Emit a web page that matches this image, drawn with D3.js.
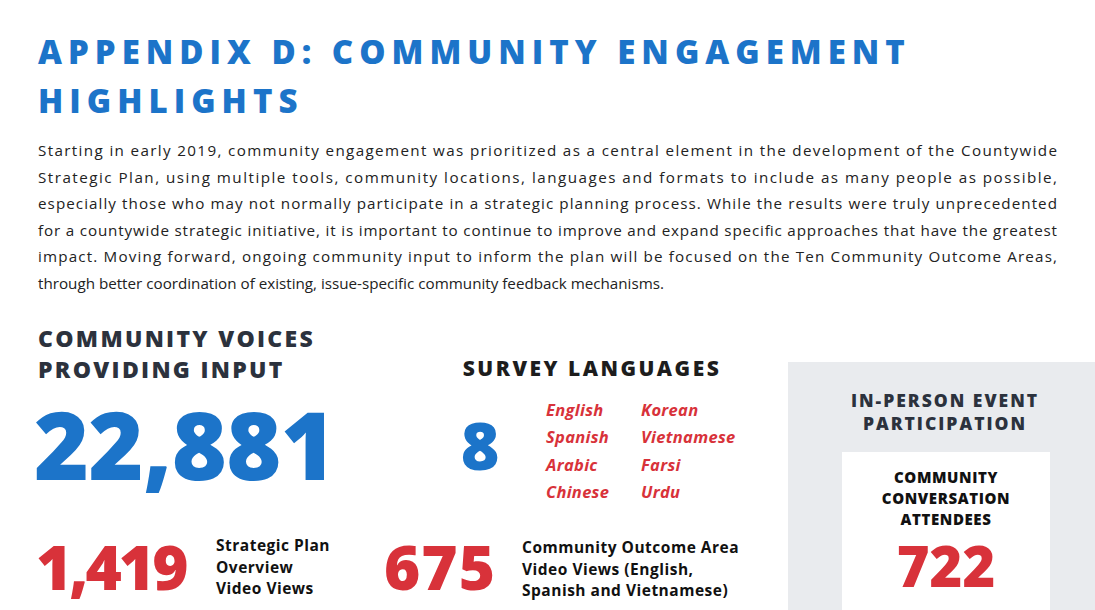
<!DOCTYPE html>
<html>
<head>
<meta charset="utf-8">
<script src="https://cdn.jsdelivr.net/npm/d3@7"></script>
<style>
body{margin:0;background:#fff;}
text{font-family:"Open Sans",Lato,sans-serif;}
</style>
</head>
<body>
<script>
//infographic content
var titleLines = ["APPENDIX D: COMMUNITY ENGAGEMENT", "HIGHLIGHTS"];
var introLines = [
  "Starting in early 2019, community engagement was prioritized as a central element in the development of the Countywide",
  "Strategic Plan, using multiple tools, community locations, languages and formats to include as many people as possible,",
  "especially those who may not normally participate in a strategic planning  process. While the results were truly unprecedented",
  "for a countywide strategic initiative, it is important to continue to improve and expand specific approaches that have the greatest",
  "impact. Moving forward, ongoing community input to inform the plan will be focused on the Ten Community Outcome Areas,",
  "through better coordination of existing, issue-specific community feedback mechanisms."
];
var voicesHeading = ["COMMUNITY VOICES", "PROVIDING INPUT"];
var voicesTotal = "22,881";
var languageCount = "8";
var languages = ["English", "Spanish", "Arabic", "Chinese", "Korean", "Vietnamese", "Farsi", "Urdu"];
var eventHeading = ["IN-PERSON EVENT", "PARTICIPATION"];
var eventLabel = ["COMMUNITY", "CONVERSATION", "ATTENDEES"];
var eventValue = "722";
var videoValues = ["1,419", "675"];
var videoLabels = [
  ["Strategic Plan", "Overview", "Video Views"],
  ["Community Outcome Area", "Video Views (English,", "Spanish and Vietnamese)"]
];

var blue = "#1c74c9", red = "#d8323a", dark = "#2c323d";

var svg = d3.select("body").append("svg")
    .attr("width", 1095).attr("height", 610);

//title
svg.selectAll(".title").data(titleLines).enter().append("text")
    .attr("x", 38).attr("y", function(d, i){ return 64 + i * 49; })
    .attr("fill", blue).attr("font-size", 33).attr("font-weight", 800)
    .attr("letter-spacing", 6)
    .text(function(d){ return d; });

//justified intro paragraph
var lineY = d3.scaleLinear().domain([0, introLines.length - 1]).range([156, 289]);
svg.selectAll(".intro").data(introLines).enter().append("text")
    .attr("x", 38).attr("y", function(d, i){ return lineY(i); })
    .attr("fill", "#222").attr("font-size", 15.2)
    .each(function(d, i){
        if (i < introLines.length - 1)
            d3.select(this).attr("textLength", 1019).attr("lengthAdjust", "spacing");
    })
    .text(function(d){ return d; });

//community voices block
svg.selectAll(".voices").data(voicesHeading).enter().append("text")
    .attr("x", 38).attr("y", function(d, i){ return 347 + i * 31; })
    .attr("fill", dark).attr("font-size", 23).attr("font-weight", 800)
    .attr("letter-spacing", 2.3)
    .text(function(d){ return d; });
svg.append("text").attr("x", 34).attr("y", 480)
    .attr("fill", blue).attr("font-size", 94).attr("font-weight", 800)
    .attr("letter-spacing", -0.5).text(voicesTotal);

//survey languages
svg.append("text").attr("x", 592).attr("y", 376).attr("text-anchor", "middle")
    .attr("fill", "#1d1d1d").attr("font-size", 21).attr("font-weight", 800)
    .attr("letter-spacing", 2.5).text("SURVEY LANGUAGES");
svg.append("text").attr("x", 480).attr("y", 470).attr("text-anchor", "middle")
    .attr("fill", blue).attr("font-size", 66).attr("font-weight", 800).text(languageCount);
var langCol = d3.scalePoint().domain([0, 1]).range([546, 641]);
var langRow = d3.scalePoint().domain([0, 1, 2, 3]).range([416, 498]);
svg.selectAll(".lang").data(languages).enter().append("text")
    .attr("x", function(d, i){ return langCol(Math.floor(i / 4)); })
    .attr("y", function(d, i){ return langRow(i % 4); })
    .attr("fill", red).attr("font-size", 16.5).attr("font-weight", 700)
    .attr("font-style", "italic").attr("letter-spacing", 0.3)
    .text(function(d){ return d; });

//in-person panel
svg.append("rect").attr("x", 788).attr("y", 362).attr("width", 307).attr("height", 248)
    .attr("fill", "#e9ebee");
svg.selectAll(".event").data(eventHeading).enter().append("text")
    .attr("x", 945).attr("y", function(d, i){ return 407 + i * 23; })
    .attr("text-anchor", "middle").attr("fill", dark).attr("font-size", 17.5)
    .attr("font-weight", 800).attr("letter-spacing", 2).text(function(d){ return d; });
svg.append("rect").attr("x", 842).attr("y", 452).attr("width", 208).attr("height", 158)
    .attr("fill", "#fff");
svg.selectAll(".elabel").data(eventLabel).enter().append("text")
    .attr("x", 946).attr("y", function(d, i){ return 483 + i * 21; })
    .attr("text-anchor", "middle").attr("fill", "#111").attr("font-size", 15)
    .attr("font-weight", 800).attr("letter-spacing", 0.6).text(function(d){ return d; });
svg.append("text").attr("x", 946).attr("y", 587).attr("text-anchor", "middle")
    .attr("fill", red).attr("font-size", 56).attr("font-weight", 800).text(eventValue);

//video views
var vidX = [36, 384], vidLabelX = [216, 522], vidLabelY = [551, 553], vidSpacing = [-3, 1];
svg.selectAll(".vid").data(videoValues).enter().append("text")
    .attr("x", function(d, i){ return vidX[i]; }).attr("y", 590)
    .attr("fill", red).attr("font-size", 62).attr("font-weight", 800)
    .attr("letter-spacing", function(d, i){ return vidSpacing[i]; })
    .text(function(d){ return d; });
videoLabels.forEach(function(lines, j){
    svg.selectAll(".vl" + j).data(lines).enter().append("text")
        .attr("x", vidLabelX[j]).attr("y", function(d, i){ return vidLabelY[j] + i * 21.5; })
        .attr("fill", "#111").attr("font-size", 15.5).attr("font-weight", 700)
        .attr("letter-spacing", 0.5)
        .text(function(d){ return d; });
});
</script>
</body>
</html>
